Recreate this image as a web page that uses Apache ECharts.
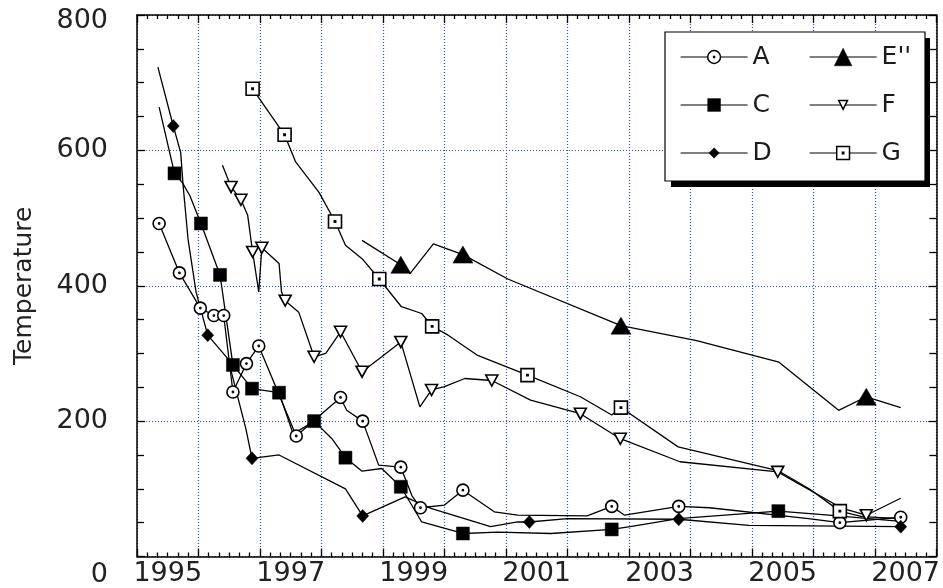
<!DOCTYPE html>
<html><head><meta charset="utf-8">
<script src="https://cdn.jsdelivr.net/npm/echarts@6/dist/echarts.min.js"></script>
<style>html,body{margin:0;padding:0;background:#fff}#c{width:943px;height:588px}</style>
</head><body><div id="c"></div>
<script>
// x tick labels (year labels centred inside each year band)
const yearLabels = [1995, 1997, 1999, 2001, 2003, 2005, 2007];
const yTicks = [0, 200, 400, 600, 800];

// Series values: x (decimal year), y (temperature), m (1 = marker drawn at vertex)
const A_x = [1995.36,1995.69,1996.03,1996.25,1996.41,1996.56,1996.78,1996.98,1997.59,1998.31,1998.41,1998.67,1998.93,1999.29,1999.47,1999.61,2000.00,2000.30,2000.81,2001.19,2002.32,2002.72,2002.93,2003.81,2004.31,2005.92,2006.43,2007.42];
const A_y = [492,419,367,356,356,243,285,311,178,235,216,200,135,132,90,72,76,98,66,61,60,74,61,74,72,56,50,58];
const A_m = [1,1,1,1,1,1,1,1,1,1,0,1,0,1,0,1,0,1,0,0,0,1,0,1,0,0,1,1];

const C_x = [1995.36,1995.61,1995.74,1995.86,1996.04,1996.35,1996.56,1996.87,1997.31,1997.54,1997.88,1998.17,1998.39,1998.66,1998.98,1999.29,1999.63,2000.30,2000.87,2001.73,2002.72,2003.02,2003.80,2005.43,2006.25,2007.42];
const C_y = [664,566,552,533,492,416,283,248,242,181,200,174,146,126,130,103,51,34,36,34,40,44,56,67,61,52];
const C_m = [0,1,0,0,1,1,1,1,1,0,1,0,1,0,0,1,0,1,0,0,1,0,0,1,0,0];

const D_x = [1995.34,1995.59,1995.71,1995.75,1995.83,1995.96,1996.15,1996.48,1996.77,1996.87,1997.31,1998.39,1998.67,1999.36,1999.78,2000.75,2001.19,2001.38,2002.00,2003.81,2004.95,2007.42];
const D_y = [723,636,597,548,469,391,327,292,189,145,150,100,60,88,71,44,51,51,56,55,46,44];
const D_m = [0,1,0,0,0,0,1,0,0,1,0,0,1,0,0,0,0,1,0,1,0,1];

const E_x = [1998.66,1999.29,1999.44,1999.82,2000.30,2001.03,2002.87,2004.10,2005.44,2006.41,2006.86,2007.42];
const E_y = [467,431,418,462,446,410,341,319,287,216,236,220];
const E_m = [0,1,0,0,1,0,1,0,0,0,1,0];

const F_x = [1996.39,1996.53,1996.69,1996.80,1996.88,1996.98,1997.03,1997.31,1997.35,1997.41,1997.63,1997.88,1998.07,1998.31,1998.66,1998.98,1999.29,1999.60,1999.79,2000.00,2000.33,2000.77,2001.40,2002.21,2002.86,2003.83,2005.42,2006.47,2006.86,2007.42];
const F_y = [578,546,527,504,450,391,456,433,391,378,361,295,300,332,273,295,317,221,246,251,263,260,231,211,174,140,125,71,61,86];
const F_m = [0,1,1,0,1,0,1,0,0,1,0,1,0,1,1,0,1,0,1,0,0,1,0,1,1,0,1,0,1,0];

const G_x = [1996.88,1997.40,1997.58,1997.96,1998.22,1998.39,1998.66,1998.94,1999.30,1999.63,1999.80,2000.06,2000.54,2001.35,2002.21,2002.72,2002.87,2003.80,2005.42,2005.93,2006.43,2006.79,2007.42];
const G_y = [691,623,583,538,495,460,440,410,369,359,340,327,297,268,236,209,220,162,127,100,67,59,56];
const G_m = [1,1,0,0,1,0,0,1,0,0,1,0,0,1,0,0,1,0,0,0,1,0,0];

const FONT = 'DejaVu Sans';
const SYM = {
  circleDot: 'path://M10,0 A10,10 0 1,1 10,20 A10,10 0 1,1 10,0 Z M10,9 A1,1 0 1,1 10,11 A1,1 0 1,1 10,9 Z',
  squareDot: 'path://M0,0 L20,0 L20,20 L0,20 Z M9,9 L11,9 L11,11 L9,11 Z',
  downTri: 'path://M0,0 L20,0 L10,18 Z'
};

function pts(xs, ys, ms) {
  return xs.map((x, i) => ms[i] ? [x, ys[i]] : { value: [x, ys[i]], symbol: 'none' });
}
function ser(name, xs, ys, ms, symbol, size, fill) {
  return {
    name, type: 'line', data: pts(xs, ys, ms), symbol, symbolSize: size,
    showAllSymbol: true, animation: false, z: 5,
    lineStyle: { color: '#000', width: 1.3 },
    itemStyle: { color: fill, borderColor: '#000', borderWidth: fill === '#fff' ? 1.6 : 0.5 },
    emphasis: { disabled: true }
  };
}

const series = [
  ser('A', A_x, A_y, A_m, SYM.circleDot, 12, '#fff'),
  ser('C', C_x, C_y, C_m, 'rect', 13, '#000'),
  ser('D', D_x, D_y, D_m, 'diamond', [12, 13], '#000'),
  ser("E''", E_x, E_y, E_m, 'triangle', [20, 17], '#000'),
  ser('F', F_x, F_y, F_m, SYM.downTri, [12, 11], '#fff'),
  ser('G', G_x, G_y, G_m, SYM.squareDot, 13, '#fff')
];

function leg(name, left, cy, ih, fill) {
  const h = Math.max(ih, 29);
  return {
    data: [name], left, top: cy - h / 2, padding: 0, itemWidth: 67, itemHeight: ih,
    selectedMode: false, z: 20, orient: 'vertical',
    textStyle: { fontSize: 25, fontFamily: FONT, color: '#1a1a1a', padding: [0, 0, 0, 0] },
    itemStyle: { color: fill, borderColor: '#000', borderWidth: fill === '#fff' ? 1.5 : 0.5 },
    lineStyle: { color: '#000', width: 1.2 }
  };
}

const labelStyle = { fontSize: 27, fontFamily: FONT, color: '#222' };
const tickStyle = { color: '#000', width: 1.3 };
const gridLine = { show: true, lineStyle: { color: '#2f55c8', width: 1.2, type: [1, 2] } };

const option = {
  backgroundColor: '#fff',
  animation: false,
  grid: { left: 137, right: 1.5, top: 15, bottom: 30, containLabel: false },
  xAxis: [
    {
      type: 'value', position: 'bottom', min: 1995, max: 2008, interval: 1,
      axisLine: { show: true, onZero: false, lineStyle: { color: '#000', width: 1.5 } },
      axisTick: { show: true, inside: true, length: 8, lineStyle: tickStyle },
      minorTick: { show: true, splitNumber: 6, length: 4, lineStyle: tickStyle },
      splitLine: gridLine,
      axisLabel: Object.assign({
        margin: 4,
        customValues: yearLabels.map(y => y + 0.5),
        formatter: v => String(Math.floor(v))
      }, labelStyle)
    },
    {
      type: 'value', position: 'top', min: 1995, max: 2008, interval: 1,
      axisLine: { show: true, onZero: false, lineStyle: { color: '#000', width: 1.5 } },
      axisTick: { show: true, inside: true, length: 8, lineStyle: tickStyle },
      minorTick: { show: true, splitNumber: 6, length: 4, lineStyle: tickStyle },
      splitLine: { show: false }, axisLabel: { show: false }
    }
  ],
  yAxis: [
    {
      type: 'value', position: 'left', min: 0, max: 800, interval: 200,
      name: 'Temperature', nameLocation: 'middle', nameGap: 100, nameRotate: 90,
      nameTextStyle: { fontSize: 25, fontFamily: FONT, color: '#222' },
      axisLine: { show: true, onZero: false, lineStyle: { color: '#000', width: 1.5 } },
      axisTick: { show: true, inside: true, length: 8, lineStyle: tickStyle },
      minorTick: { show: true, splitNumber: 4, length: 7, lineStyle: tickStyle },
      splitLine: gridLine,
      axisLabel: Object.assign({
        margin: 29,
        formatter: v => v === 0 ? '{b|0}' : (v === 800 ? '{t|800}' : String(v)),
        rich: {
          b: { fontSize: 27, fontFamily: FONT, color: '#222', padding: [36, 0, 0, 0] },
          t: { fontSize: 27, fontFamily: FONT, color: '#222', padding: [12, 0, 0, 0] }
        }
      }, labelStyle)
    },
    {
      type: 'value', position: 'right', min: 0, max: 800, interval: 200,
      axisLine: { show: true, onZero: false, lineStyle: { color: '#000', width: 1.5 } },
      axisTick: { show: true, inside: true, length: 8, lineStyle: tickStyle },
      minorTick: { show: true, splitNumber: 4, length: 7, lineStyle: tickStyle },
      splitLine: { show: false }, axisLabel: { show: false }
    }
  ],
  legend: [
    leg('A', 680, 59, 16, '#fff'),
    leg('C', 680, 107, 16, '#000'),
    leg('D', 680, 155, 13, '#000'),
    leg("E''", 809, 59, 22, '#000'),
    leg('F', 809, 107, 11, '#fff'),
    leg('G', 809, 155, 16, '#fff')
  ],
  graphic: [
    { type: 'rect', z: 10, shape: { x: 671, y: 38, width: 259, height: 149 }, style: { fill: '#000' } },
    { type: 'rect', z: 11, shape: { x: 665, y: 32, width: 260, height: 149 }, style: { fill: '#fff', stroke: '#000', lineWidth: 1.2 } }
  ],
  series
};

const chart = echarts.init(document.getElementById('c'), null, { renderer: 'canvas' });
chart.setOption(option);
</script></body></html>
